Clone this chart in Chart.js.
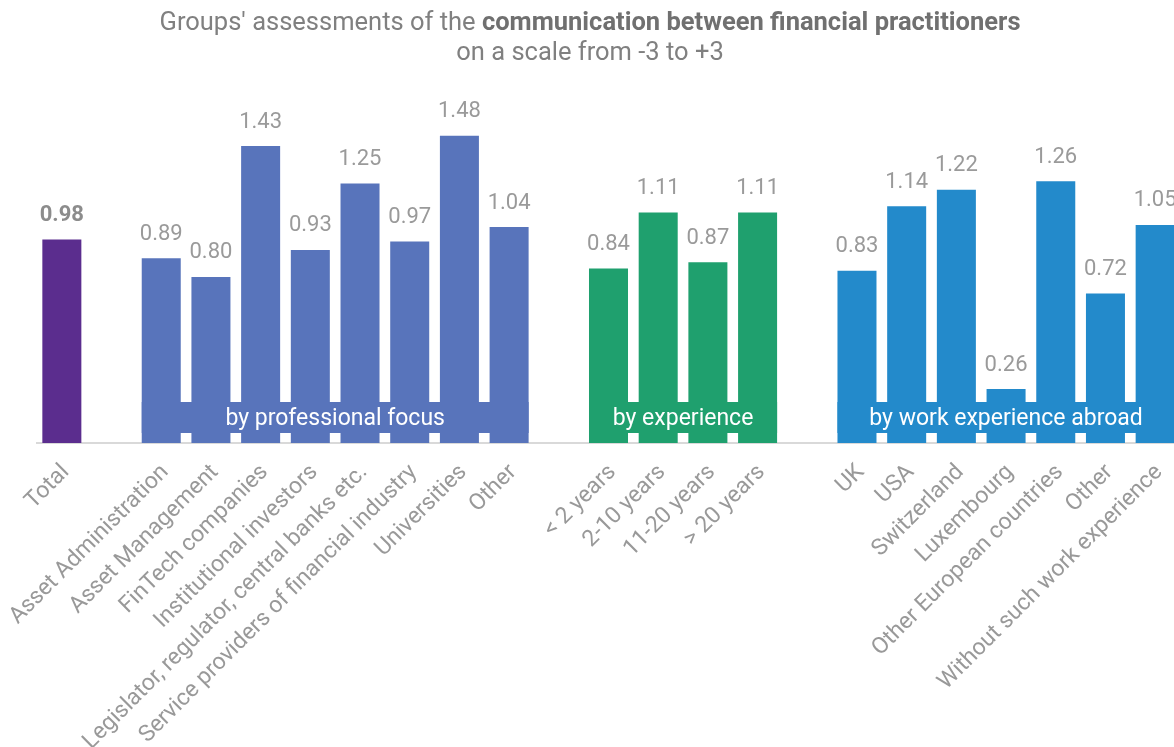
<!DOCTYPE html>
<html>
<head>
<meta charset="utf-8">
<title>Communication between financial practitioners</title>
<script src="https://cdn.jsdelivr.net/npm/chart.js@4.4.1/dist/chart.umd.min.js"></script>
<style>
  html, body { margin: 0; padding: 0; background: #fff; overflow: hidden; }
  #wrap { width: 1180px; height: 747px; position: relative; }
</style>
</head>
<body>
<div id="wrap"><canvas id="commChart"></canvas></div>
<script>
// categories, with empty slots separating the groups
const categories = [
  "Total", "",
  "Asset Administration", "Asset Management", "FinTech companies", "Institutional investors",
  "Legislator, regulator, central banks etc.", "Service providers of financial industry",
  "Universities", "Other", "",
  "< 2 years", "2-10 years", "11-20 years", "> 20 years", "",
  "UK", "USA", "Switzerland", "Luxembourg", "Other European countries", "Other",
  "Without such work experience"
];
const scores = [
  0.98, null,
  0.89, 0.80, 1.43, 0.93, 1.25, 0.97, 1.48, 1.04, null,
  0.84, 1.11, 0.87, 1.11, null,
  0.83, 1.14, 1.22, 0.26, 1.26, 0.72, 1.05
];
const groupNames = ["by professional focus", "by experience", "by work experience abroad"];
const groupFirst = [2, 11, 16];
const groupLast = [9, 14, 22];
const groupColors = ["#5874bb", "#1fa06e", "#238acb"];
const totalColor = "#5b2d8e";

const barColors = categories.map((c, i) => {
  if (i === 0) return totalColor;
  for (let g = 0; g < groupFirst.length; g++) {
    if (i >= groupFirst[g] && i <= groupLast[g]) return groupColors[g];
  }
  return "rgba(0,0,0,0)";
});

const labelFont = "Roboto, 'DejaVu Sans', sans-serif";
const numberFont = "'Liberation Sans Narrow', 'Roboto', sans-serif";

// title, value labels and group bands
const decorations = {
  id: "decorations",
  afterDatasetsDraw(chart) {
    const ctx = chart.ctx;
    const bars = chart.getDatasetMeta(0).data;
    const area = chart.chartArea;

    // group bands sitting across the bottom of each group
    ctx.save();
    for (let g = 0; g < groupNames.length; g++) {
      const a = bars[groupFirst[g]];
      const b = bars[groupLast[g]];
      const left = a.x - a.width / 2;
      const right = b.x + b.width / 2;
      const top = area.bottom - 41;
      ctx.fillStyle = groupColors[g];
      ctx.fillRect(left, top, right - left, 31);
      ctx.fillStyle = "#ffffff";
      ctx.font = "400 23px " + labelFont;
      ctx.textAlign = "center";
      ctx.textBaseline = "middle";
      ctx.fillText(groupNames[g], (left + right) / 2, top + 17);
    }
    ctx.restore();

    // values above bars
    ctx.save();
    ctx.textAlign = "center";
    ctx.textBaseline = "bottom";
    bars.forEach((bar, i) => {
      if (scores[i] === null) return;
      ctx.font = (i === 0 ? "700 " : "400 ") + "22px " + numberFont;
      ctx.fillStyle = i === 0 ? "#8c8c8c" : "#9a9a9a";
      ctx.fillText(scores[i].toFixed(2), bar.x, bar.y - 13);
    });
    ctx.restore();

    // two-line title with a bold part
    ctx.save();
    const cx = chart.width / 2;
    const part1 = "Groups' assessments of the ";
    const part2 = "communication between financial practitioners";
    const size = "25.5px ";
    ctx.textBaseline = "alphabetic";
    ctx.textAlign = "left";
    ctx.font = "400 " + size + labelFont;
    const w1 = ctx.measureText(part1).width;
    ctx.font = "700 " + size + labelFont;
    const w2 = ctx.measureText(part2).width;
    let x = cx - (w1 + w2) / 2;
    ctx.font = "400 " + size + labelFont;
    ctx.fillStyle = "#808080";
    ctx.fillText(part1, x, 30);
    ctx.font = "700 " + size + labelFont;
    ctx.fillStyle = "#707070";
    ctx.fillText(part2, x + w1, 30);
    ctx.font = "400 " + size + labelFont;
    ctx.fillStyle = "#808080";
    ctx.textAlign = "center";
    ctx.fillText("on a scale from -3 to +3", cx, 60);
    ctx.restore();
  }
};

new Chart(document.getElementById("commChart"), {
  type: "bar",
  data: {
    labels: categories,
    datasets: [{
      data: scores,
      backgroundColor: barColors,
      barPercentage: 0.785,
      categoryPercentage: 1.0
    }]
  },
  options: {
    responsive: true,
    maintainAspectRatio: false,
    animation: false,
    layout: { padding: { left: 37, right: 0, top: 90, bottom: 0 } },
    plugins: {
      legend: { display: false },
      tooltip: { enabled: false },
      title: { display: false }
    },
    scales: {
      x: {
        grid: { display: false, drawTicks: false },
        border: { color: "#d9d9d9", width: 2 },
        ticks: {
          color: "#999999",
          font: { family: labelFont, size: 23 },
          minRotation: 45,
          maxRotation: 45,
          autoSkip: false,
          padding: 16,
          labelOffset: 4
        },
        afterFit(scale) {
          scale.height = 304;
          scale.paddingLeft = 0;
          scale.paddingRight = 0;
        }
      },
      y: { display: false, min: 0, max: 1.7 }
    }
  },
  plugins: [decorations]
});
</script>
</body>
</html>
